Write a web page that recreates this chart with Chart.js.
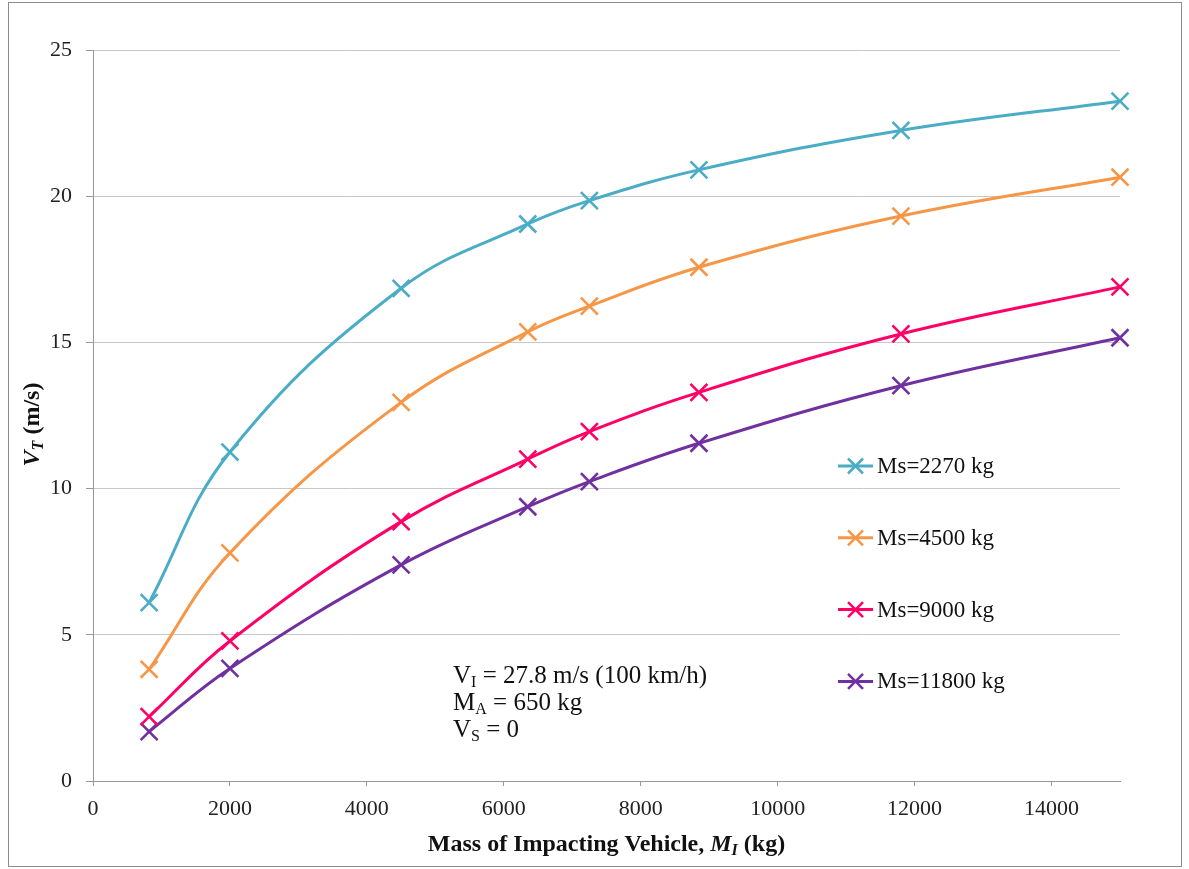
<!DOCTYPE html>
<html>
<head>
<meta charset="utf-8">
<script src="https://cdn.jsdelivr.net/npm/chart.js@4"></script>
<style>
html, body { margin: 0; padding: 0; background: #fff; }
#wrap { position: relative; width: 1189px; height: 869px; }
#frame { position: absolute; left: 8px; top: 2px; width: 1172px; height: 863px; border: 1px solid #8c8c8c; pointer-events: none; }
</style>
</head>
<body>
<div id="wrap">
    <canvas id="chart" width="1189" height="869"></canvas>
    <div id="frame"></div>
</div>
<script>
// Data
const massImpacting = [820, 2000, 4500, 6350, 7250, 8850, 11800, 15000];
const ms2270 = [6.1, 11.25, 16.85, 19.05, 19.85, 20.9, 22.25, 23.25];
const ms4500 = [3.82, 7.8, 12.95, 15.36, 16.24, 17.57, 19.32, 20.65];
const ms9000 = [2.2, 4.79, 8.87, 11.01, 11.95, 13.29, 15.29, 16.9];
const ms11800 = [1.69, 3.85, 7.39, 9.38, 10.24, 11.55, 13.52, 15.16];
const seriesLabels = ['Ms=2270 kg', 'Ms=4500 kg', 'Ms=9000 kg', 'Ms=11800 kg'];
const seriesColors = ['#4bacc6', '#f79646', '#ff0066', '#7030a0'];
const xTicks = [0, 2000, 4000, 6000, 8000, 10000, 12000, 14000];
const yTicks = [0, 5, 10, 15, 20, 25];

const FONT = '"Liberation Serif", "Times New Roman", serif';

function toPoints(values) {
    return values.map(function(v, i) { return { x: massImpacting[i], y: v }; });
}

// draw text made of runs with different fonts (for subscripts / italics)
function runsWidth(ctx, runs) {
    let w = 0;
    runs.forEach(function(r) { ctx.font = r.font; w += ctx.measureText(r.text).width; });
    return w;
}
function drawRuns(ctx, runs, x, y) {
    runs.forEach(function(r) {
        ctx.font = r.font;
        ctx.fillText(r.text, x, y + (r.dy || 0));
        x += ctx.measureText(r.text).width;
    });
}

const overlayPlugin = {
    id: 'overlay',
    afterDraw: function(chart) {
        const ctx = chart.ctx;
        const area = chart.chartArea;
        ctx.save();
        ctx.fillStyle = '#111';
        ctx.textBaseline = 'alphabetic';
        ctx.textAlign = 'left';

        // legend inside plot
        const lx = area.left + 745;
        chart.data.datasets.forEach(function(ds, i) {
            const cy = area.top + 416 + i * 71.8;
            ctx.strokeStyle = ds.borderColor;
            ctx.lineWidth = 3;
            ctx.beginPath();
            ctx.moveTo(lx, cy);
            ctx.lineTo(lx + 35, cy);
            ctx.stroke();
            const r = 7.5;
            ctx.lineWidth = 2.5;
            ctx.beginPath();
            ctx.moveTo(lx + 17.5 - r, cy - r);
            ctx.lineTo(lx + 17.5 + r, cy + r);
            ctx.moveTo(lx + 17.5 - r, cy + r);
            ctx.lineTo(lx + 17.5 + r, cy - r);
            ctx.stroke();
            ctx.font = '23px ' + FONT;
            ctx.textBaseline = 'middle';
            ctx.fillText(ds.label, lx + 39, cy + 1);
            ctx.textBaseline = 'alphabetic';
        });

        // conditions note
        const big = '25px ' + FONT;
        const small = '16px ' + FONT;
        const nx = 453;
        drawRuns(ctx, [{ text: 'V', font: big }, { text: 'I', font: small, dy: 4 }, { text: ' = 27.8 m/s (100 km/h)', font: big }], nx, 683);
        drawRuns(ctx, [{ text: 'M', font: big }, { text: 'A', font: small, dy: 4 }, { text: ' = 650 kg', font: big }], nx, 710);
        drawRuns(ctx, [{ text: 'V', font: big }, { text: 'S', font: small, dy: 4 }, { text: ' = 0', font: big }], nx, 737);

        // x axis title
        const xRuns = [
            { text: 'Mass of Impacting Vehicle, ', font: 'bold 24px ' + FONT },
            { text: 'M', font: 'italic bold 24px ' + FONT },
            { text: 'I', font: 'italic bold 16px ' + FONT, dy: 4 },
            { text: ' (kg)', font: 'bold 24px ' + FONT }
        ];
        const xw = runsWidth(ctx, xRuns);
        drawRuns(ctx, xRuns, (area.left + area.right) / 2 - xw / 2, 851);

        // y axis title
        const yRuns = [
            { text: 'V', font: 'italic bold 24px ' + FONT },
            { text: 'T', font: 'italic bold 16px ' + FONT, dy: 4 },
            { text: ' (m/s)', font: 'bold 24px ' + FONT }
        ];
        const yw = runsWidth(ctx, yRuns);
        ctx.translate(39, (area.top + area.bottom) / 2 + 9);
        ctx.rotate(-Math.PI / 2);
        drawRuns(ctx, yRuns, -yw / 2, 0);
        ctx.restore();
    }
};

function makeDataset(label, values, color) {
    return {
        label: label,
        data: toPoints(values),
        borderColor: color,
        backgroundColor: color,
        borderWidth: 3,
        tension: 0.4,
        pointStyle: 'crossRot',
        pointRadius: 12,
        pointBorderWidth: 2.6,
        pointBorderColor: color,
        pointHoverRadius: 12,
        clip: false,
        fill: false
    };
}

const ctx = document.getElementById('chart').getContext('2d');
const chart = new Chart(ctx, {
    type: 'line',
    data: {
        datasets: [
            makeDataset(seriesLabels[0], ms2270, seriesColors[0]),
            makeDataset(seriesLabels[1], ms4500, seriesColors[1]),
            makeDataset(seriesLabels[2], ms9000, seriesColors[2]),
            makeDataset(seriesLabels[3], ms11800, seriesColors[3])
        ]
    },
    options: {
        responsive: false,
        animation: false,
        layout: { padding: { top: 50, right: 69, left: 0, bottom: 0 } },
        plugins: {
            legend: { display: false },
            tooltip: { enabled: false }
        },
        scales: {
            x: {
                type: 'linear',
                min: 0,
                max: 15000,
                afterBuildTicks: function(scale) {
                    scale.ticks = xTicks.map(function(v) { return { value: v }; });
                },
                afterFit: function(scale) { scale.height = 88; },
                ticks: {
                    color: '#222',
                    font: { family: FONT, size: 22 },
                    padding: 10,
                    maxRotation: 0,
                    callback: function(v) { return String(v); }
                },
                grid: {
                    drawOnChartArea: false,
                    drawTicks: true,
                    tickLength: 5,
                    tickColor: '#999'
                },
                border: { display: true, color: '#999', width: 1 }
            },
            y: {
                min: 0,
                max: 25,
                afterBuildTicks: function(scale) {
                    scale.ticks = yTicks.map(function(v) { return { value: v }; });
                },
                afterFit: function(scale) { scale.width = 93; },
                ticks: {
                    color: '#222',
                    font: { family: FONT, size: 22 },
                    padding: 14,
                    callback: function(v) { return String(v); }
                },
                grid: {
                    color: '#c8c8c8',
                    lineWidth: 1,
                    tickLength: 7,
                    tickColor: '#999'
                },
                border: { display: true, color: '#999', width: 1 }
            }
        }
    },
    plugins: [overlayPlugin]
});
</script>
</body>
</html>
